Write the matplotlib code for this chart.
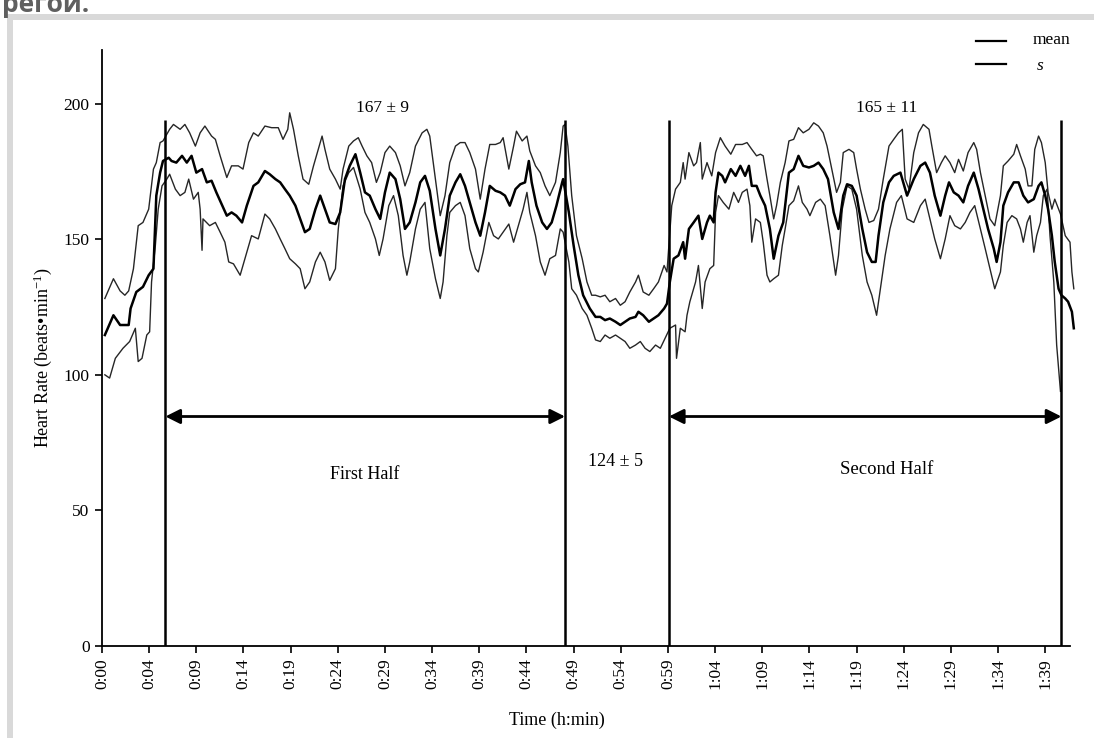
import numpy as np
import matplotlib
matplotlib.use("Agg")
import matplotlib.pyplot as plt
from matplotlib.lines import Line2D
from matplotlib.patches import Rectangle

plt.rcParams['font.family'] = ['Liberation Serif', 'DejaVu Serif']
plt.rcParams['mathtext.fontset'] = 'custom'
plt.rcParams['mathtext.rm'] = 'Liberation Serif'
plt.rcParams['mathtext.it'] = 'Liberation Serif:italic'

# ---------------- data (time in minutes, heart rate in beats/min) ----------------
t_upper = [0.3, 1.2, 1.9, 2.4, 2.8, 3.3, 3.8, 4.3, 4.9, 5.4, 5.7, 6.1, 6.4, 7.1, 7.5, 8.2, 8.7, 9.2, 9.8, 10.3,
           10.8, 11.5, 11.9, 12.4, 13.1, 13.6, 14.3, 14.8, 15.4, 15.9, 16.4,
           17.1, 17.8, 18.5, 19.0, 19.5, 19.7, 20.1, 20.6, 21.1, 21.7, 22.2, 22.5, 23.1, 23.4, 23.9, 24.5, 25.0,
           25.3, 25.9, 26.4, 26.9, 27.3, 27.8, 28.3, 28.8, 29.2, 29.7, 30.2, 30.8, 31.3, 31.8, 32.3, 32.9, 33.6, 34.1,
           34.4, 35.0, 35.5, 36.0, 36.5, 37.1, 37.6, 38.1, 38.6, 39.2, 39.7, 40.2, 40.7, 41.3, 41.8, 42.1, 42.7,
           43.2, 43.5, 44.1, 44.6, 44.9, 45.5, 46.0, 46.5, 47.0, 47.6, 48.1, 48.4, 48.6, 48.9, 49.3, 49.8, 50.4,
           50.9, 51.4,
           51.8, 52.3, 52.8, 53.3, 53.9, 54.4, 54.9, 55.4, 56.0, 56.3, 56.8, 57.4, 57.9, 58.4, 59.0, 59.3, 59.8,
           60.2, 60.7, 61.0, 61.2, 61.6, 62.1, 62.4, 62.8, 63.0, 63.5, 64.0, 64.4, 64.9, 65.4, 66.0, 66.5, 67.2,
           67.7, 68.2, 68.7,
           69.1, 69.4, 69.8, 70.1, 70.5, 70.8, 71.2, 71.7, 72.1, 72.6, 73.1, 73.6, 74.2, 74.7, 75.2, 75.7, 76.1,
           76.6, 77.1, 77.5, 77.8, 78.4, 78.9, 79.2, 79.6, 80.1, 80.5, 81.0, 81.5, 82.0, 82.6, 83.1, 83.6, 84.0,
           84.3, 84.7, 85.2, 85.7,
           86.2, 86.8, 87.1, 87.6, 88.1, 88.5, 89.0, 89.5, 89.9, 90.4, 90.9, 91.5, 91.8, 92.2, 92.7, 93.2, 93.7,
           94.3, 94.6, 95.1, 95.7, 96.0, 96.4, 96.9, 97.2, 97.6, 97.9, 98.3, 98.6, 99.0, 99.3, 99.7, 100.0, 100.4,
           100.6, 101.1, 101.6, 101.8, 102.0]
hr_upper = [128.2, 135.5, 131.0, 129.4, 131.0, 139.2, 155.1, 156.3, 161.2, 176.0, 178.4, 185.8, 186.4, 190.7,
            192.5, 190.7, 192.5, 189.4, 184.5, 189.4, 191.9, 188.2, 187.0, 180.9, 172.9, 177.2, 177.2, 176.0,
            185.8, 189.4, 188.2,
            191.9, 191.3, 191.3, 187.0, 190.7, 196.8, 190.7, 180.9, 172.3, 170.4, 177.2, 180.9, 188.2, 183.3,
            176.0, 172.3, 168.6, 176.0, 184.5, 186.4, 187.6, 184.5, 180.9, 178.4, 171.1, 174.7, 182.1, 184.5,
            182.1, 177.2, 169.8, 174.7, 184.5, 189.4, 190.7,
            188.2, 172.3, 158.8, 166.2, 178.4, 184.5, 185.8, 185.8, 182.1, 176.0, 164.9, 176.0, 185.1, 185.1,
            185.8, 187.6, 176.0, 184.5, 190.0, 186.4, 188.2, 182.7, 177.2, 174.7, 169.8, 166.2, 171.1, 182.1,
            191.9, 192.5, 184.5, 166.2, 151.4, 142.9, 134.3, 129.4,
            129.4, 128.8, 129.4, 127.0, 128.2, 125.7, 127.0, 130.6, 134.3, 136.8, 130.6, 129.4, 131.8, 134.3,
            140.4, 138.0, 162.5, 168.6, 171.1, 178.4, 172.3, 182.1, 177.2, 178.4, 185.8, 172.3, 178.4, 173.5,
            182.1, 187.6, 184.5, 181.5, 185.1, 185.1, 185.8, 183.3, 180.9,
            181.5, 180.9, 172.3, 166.2, 157.6, 162.5, 171.1, 178.4, 186.4, 187.0, 191.3, 189.4, 190.7, 193.1,
            191.9, 189.4, 184.5, 176.0, 167.4, 171.1, 182.1, 183.3, 182.1, 176.0, 168.6, 161.2, 156.3, 157.0,
            161.2, 172.3, 184.5, 187.0, 189.4, 190.7, 172.3, 168.6, 182.1, 189.4,
            192.5, 190.7, 184.5, 174.7, 178.4, 180.9, 178.4, 174.7, 179.6, 175.3, 182.1, 185.8, 183.3, 174.7,
            166.2, 157.6, 155.1, 166.2, 177.2, 179.0, 181.5, 185.1, 180.9, 176.0, 169.8, 169.8, 183.3, 188.2,
            185.8, 178.4, 167.4, 161.2, 164.9, 161.2, 159.4, 151.4, 149.0, 138.0, 131.8]

t_mean = [0.3, 1.2, 1.9, 2.8, 3.0, 3.6, 4.3, 4.9, 5.4, 5.7, 6.1, 6.4, 7.0, 7.3, 7.8, 8.4, 8.9, 9.4, 9.9, 10.5,
          11.0, 11.5, 12.0, 13.1, 13.6, 14.1, 14.7, 15.2, 15.9, 16.4,
          17.1, 17.6, 18.2, 18.7, 19.2, 19.7, 20.3, 20.8, 21.3, 21.8, 22.4, 22.9, 23.4, 23.9, 24.5, 25.0, 25.5,
          26.0, 26.6, 27.1, 27.6, 28.1, 28.7, 29.2, 29.7, 30.2, 30.8, 31.3, 31.8, 32.3, 32.9, 33.4, 33.9,
          34.4, 35.0, 35.5, 36.0, 36.5, 37.1, 37.6, 38.1, 38.6, 39.2, 39.7, 40.2, 40.7, 41.3, 41.8, 42.3, 42.8,
          43.4, 43.9, 44.4, 44.8, 45.1, 45.6, 46.2, 46.7, 47.2, 47.7, 48.3, 48.4, 49.0, 49.5, 50.0, 50.5, 51.2,
          51.8, 52.3, 52.8, 53.3, 53.9, 54.4, 54.9, 55.4, 56.0, 56.3, 56.8, 57.4, 57.9, 58.4, 59.0, 59.3, 59.6,
          60.0, 60.5, 61.0, 61.2, 61.6, 62.1, 62.6, 63.0, 63.5, 63.8, 64.2, 64.4, 64.7, 65.1, 65.4, 66.0, 66.5,
          67.0, 67.5, 67.9, 68.2, 68.7,
          69.1, 69.6, 70.1, 70.5, 71.0, 71.5, 72.1, 72.6, 73.1, 73.6, 74.2, 74.7, 75.2, 75.7, 76.2, 76.8, 77.3,
          77.8, 78.2, 78.7, 79.2, 79.8, 80.3, 80.8, 81.2, 81.5, 82.0, 82.6, 83.1, 83.8, 84.5, 85.2, 85.9,
          86.4, 86.9, 87.4, 88.0, 88.5, 88.9, 89.4, 89.9, 90.4, 90.9, 91.5, 92.0, 92.5, 93.0, 93.6, 93.9, 94.3,
          94.6, 95.1, 95.7, 96.2, 96.7, 97.2, 97.8, 98.3, 98.6, 99.0, 99.3, 99.7, 100.0, 100.4, 100.7, 101.1,
          101.4, 101.8, 102.0]
hr_mean = [114.7, 122.0, 118.4, 118.4, 124.5, 130.6, 132.5, 136.8, 139.2, 166.2, 174.7, 179.0, 180.2, 179.0,
           178.4, 180.9, 178.4, 180.9, 174.7, 176.0, 171.1, 171.7, 167.4, 158.8, 160.0, 158.8, 156.3, 162.5,
           169.8, 171.1,
           175.3, 174.1, 172.3, 171.1, 168.6, 166.2, 162.5, 157.6, 152.7, 153.9, 161.2, 166.2, 161.2, 156.3,
           155.7, 160.0, 172.3, 177.2, 181.5, 174.7, 167.4, 166.2, 161.2, 157.6, 167.4, 174.7, 172.3, 164.9,
           153.9, 156.3, 163.7, 171.1, 173.5,
           168.0, 153.9, 144.1, 153.9, 166.2, 171.1, 174.1, 169.8, 163.7, 156.3, 151.4, 160.0, 169.8, 168.0,
           167.4, 166.2, 162.5, 168.6, 170.4, 171.1, 179.0, 171.1, 162.5, 156.3, 153.9, 156.3, 162.5, 171.1,
           172.3, 160.0, 147.8, 136.8, 129.4, 124.5,
           121.4, 121.4, 120.2, 120.8, 119.6, 118.4, 119.6, 120.8, 121.4, 123.3, 122.0, 119.6, 120.8, 122.0,
           124.5, 126.3, 134.3, 142.9, 144.1, 149.0, 142.9, 153.9, 156.3, 158.8, 150.2, 156.3, 158.8, 156.3,
           167.4, 174.7, 173.5, 171.1, 176.0, 173.5, 177.2, 173.5, 177.2, 169.8, 169.8,
           166.2, 162.5, 153.9, 142.9, 151.4, 156.3, 174.7, 176.0, 180.9, 177.2, 176.6, 177.2, 178.4, 176.0,
           172.3, 160.0, 153.9, 166.2, 170.4, 169.8, 166.2, 153.9, 145.3, 141.7, 141.7, 151.4, 163.7, 171.1,
           173.5, 174.7, 166.2, 172.3, 177.2,
           178.4, 174.7, 166.2, 158.8, 166.2, 171.1, 167.4, 166.2, 163.7, 169.8, 174.7, 168.6, 161.2, 153.9,
           146.6, 141.7, 149.0, 162.5, 167.4, 171.1, 171.1, 166.2, 163.7, 164.9, 169.8, 171.1, 166.2, 161.2,
           151.4, 141.7, 131.8, 129.4, 128.2, 127.0, 123.3, 117.2]

t_lower = [0.3, 0.8, 1.4, 2.2, 2.9, 3.5, 3.8, 4.2, 4.7, 5.0, 5.2, 5.6, 5.9, 6.3, 6.8, 7.1, 7.7, 8.2, 8.7, 9.1,
           9.6, 10.1, 10.3, 10.5, 10.6, 11.3, 11.9, 12.4, 12.9, 13.3, 13.8, 14.5, 15.0, 15.7, 16.4,
           17.1, 17.6, 18.2, 18.7, 19.2, 19.7, 20.3, 20.8, 21.3, 21.8, 22.4, 22.9, 23.4, 23.9, 24.5, 24.8, 25.3,
           25.9, 26.4, 27.1, 27.6, 28.1, 28.7, 29.1, 29.5, 30.1, 30.6, 31.1, 31.6, 32.0, 32.3, 32.9, 33.4, 33.9,
           34.4, 35.0, 35.5, 35.8, 36.2, 36.5, 37.1, 37.6, 38.1, 38.6, 39.2, 39.5, 40.0, 40.6, 41.1, 41.6, 42.1,
           42.7, 43.2, 43.7, 44.2, 44.6, 44.9, 45.5, 46.0, 46.5, 47.0, 47.6, 48.1, 48.4, 49.0, 49.3, 49.8, 50.4,
           50.9, 51.4,
           51.8, 52.3, 52.8, 53.3, 53.9, 54.4, 54.9, 55.4, 56.0, 56.5, 57.0, 57.5, 58.1, 58.6, 59.1, 59.6, 60.2,
           60.3, 60.7, 61.2, 61.4, 61.7, 62.3, 62.6, 63.0, 63.3, 63.8, 64.2, 64.4, 64.7, 65.2, 65.8, 66.3, 66.8,
           67.2, 67.7, 68.0, 68.2, 68.6,
           69.1, 69.4, 69.8, 70.1, 70.5, 71.0, 71.4, 71.7, 72.1, 72.6, 73.1, 73.5, 74.0, 74.3, 74.9, 75.4, 75.9,
           76.4, 77.0, 77.3, 77.7, 78.2, 78.7, 79.2, 79.8, 80.3, 80.8, 81.3, 81.7, 82.2, 82.7, 83.4, 83.9, 84.5,
           85.2, 85.9,
           86.4, 86.9, 87.4, 88.0, 88.5, 89.0, 89.5, 90.1, 90.6, 91.1, 91.6, 92.2, 92.7, 93.2, 93.7, 94.3, 94.6,
           95.0, 95.5, 96.0, 96.4, 96.7, 97.1, 97.4, 97.8, 98.1, 98.5, 98.8, 99.2, 99.5, 99.9, 100.2, 100.6]
hr_lower = [100.0, 98.8, 106.1, 109.8, 112.3, 117.2, 104.9, 106.1, 114.7, 115.9, 134.3, 147.8, 161.2, 169.8,
            172.3, 174.1, 168.6, 166.2, 167.4, 172.3, 164.9, 167.4, 161.2, 146.0, 157.6, 155.1, 156.3, 152.7,
            149.0, 141.7, 141.0, 136.8, 142.9, 151.4, 150.2,
            159.4, 157.6, 153.9, 150.2, 146.6, 142.9, 141.0, 139.2, 131.8, 134.3, 141.7, 145.3, 141.7, 134.9,
            139.2, 153.9, 169.8, 174.7, 176.6, 168.6, 160.0, 156.3, 150.2, 144.1, 150.2, 162.5, 166.2, 158.8,
            144.1, 136.8, 141.7, 153.9, 161.2, 163.7,
            146.6, 135.5, 128.2, 134.3, 151.4, 160.0, 162.5, 163.7, 158.8, 146.6, 139.2, 138.0, 145.3, 156.3,
            151.4, 150.2, 152.7, 155.7, 149.0, 155.1, 161.2, 167.4, 160.0, 151.4, 141.7, 136.8, 142.9, 144.1,
            153.9, 152.7, 141.7, 131.8, 129.4, 124.5, 122.0, 117.2,
            112.9, 112.3, 114.7, 113.5, 114.7, 113.5, 112.3, 109.8, 111.0, 112.3, 109.8, 108.6, 111.0, 109.8,
            113.5, 117.2, 118.4, 106.1, 117.2, 115.9, 122.0, 127.0, 134.3, 140.4, 124.5, 134.3, 139.2, 140.4,
            160.0, 166.2, 163.7, 161.2, 167.4, 163.7, 167.4, 168.6, 162.5, 149.0, 157.6,
            156.3, 149.0, 136.8, 134.3, 135.5, 136.8, 147.8, 153.9, 162.5, 164.3, 169.8, 163.7, 161.2, 158.8,
            163.7, 164.9, 162.5, 151.4, 136.8, 144.1, 161.2, 169.8, 168.6, 161.2, 144.1, 134.3, 129.4, 122.0,
            131.8, 144.1, 153.9, 163.7, 166.2, 157.6, 156.3, 162.5,
            164.9, 157.6, 150.2, 142.9, 150.2, 158.8, 155.1, 153.9, 156.3, 160.0, 162.5, 153.9, 146.6, 139.2,
            131.8, 138.0, 147.8, 156.3, 158.8, 157.6, 153.9, 149.0, 156.3, 158.8, 145.3, 151.4, 156.3, 166.2,
            168.6, 151.4, 134.3, 111.0, 93.9]

half_bounds = [6.65, 48.6, 59.5, 100.7]        # start/end of first and second half (min)
tick_minutes = [4.95 * k for k in range(21)]
tick_labels = ["0:00", "0:04", "0:09", "0:14", "0:19", "0:24", "0:29", "0:34", "0:39", "0:44", "0:49",
               "0:54", "0:59", "1:04", "1:09", "1:14", "1:19", "1:24", "1:29", "1:34", "1:39"]
yticks = [0, 50, 100, 150, 200]
first_half_label = "167 ± 9"
halftime_label = "124 ± 5"
second_half_label = "165 ± 11"

# ---------------- figure ----------------
W, H = 1094, 738
fig = plt.figure(figsize=(W / 100, H / 100), dpi=100)
fig.patch.set_facecolor("white")

# grey frame of the page
fig.add_artist(Rectangle((7 / W, 0), 6 / W, (H - 14) / H, transform=fig.transFigure,
                         facecolor="#d9d9d9", edgecolor="none"))
fig.add_artist(Rectangle((7 / W, (H - 20) / H), (W - 7) / W, 6 / H, transform=fig.transFigure,
                         facecolor="#d9d9d9", edgecolor="none"))
fig.text(2 / W, (H - 12) / H, "регой.", fontsize=19, fontweight="bold", color="#5f5f5f",
         family=["Open Sans", "DejaVu Sans"], va="baseline", ha="left")

ax = fig.add_axes([102 / W, 92.5 / H, 968 / W, 595.5 / H])
ax.set_xlim(0, 101.6)
ax.set_ylim(0, 220)
for s in ("top", "right"):
    ax.spines[s].set_visible(False)
ax.spines["left"].set_linewidth(1.3)
ax.spines["bottom"].set_linewidth(1.3)

ax.plot(t_upper, hr_upper, color="#262626", lw=1.0, clip_on=False)
ax.plot(t_lower, hr_lower, color="#262626", lw=1.0, clip_on=False)
ax.plot(t_mean, hr_mean, color="black", lw=1.8, clip_on=False)

ax.vlines(half_bounds, 0, 194, color="black", lw=1.8)

arrow_y = 84.6
for a, b in [(half_bounds[0], half_bounds[1]), (half_bounds[2], half_bounds[3])]:
    ax.annotate("", xy=(b, arrow_y), xytext=(a, arrow_y),
                arrowprops=dict(arrowstyle="<|-|>", color="black", lw=2.0,
                                mutation_scale=22, shrinkA=0, shrinkB=0))

ax.set_xticks(tick_minutes)
ax.set_xticklabels(tick_labels, rotation=90, fontsize=12.5)
ax.set_yticks(yticks)
ax.set_yticklabels([str(v) for v in yticks], fontsize=12.5)
ax.tick_params(axis="both", direction="out", length=5, width=1.2, pad=4)

xl = ax.set_xlabel("Time (h:min)", fontsize=13)
xl.set_verticalalignment("center")
ax.xaxis.set_label_coords(0.47, -0.126)
yl = ax.set_ylabel("Heart Rate (beats•min$^{\\mathregular{-1}}$)", fontsize=13)
yl.set_verticalalignment("center")
ax.yaxis.set_label_coords(-0.061, 0.484)

ax.text(29.4, 198.5, first_half_label, ha="center", va="center", fontsize=12.5)
ax.text(82.4, 198.5, second_half_label, ha="center", va="center", fontsize=12.5)
ax.text(27.6, 63.2, "First Half", ha="center", va="center", fontsize=13)
ax.text(53.9, 68.0, halftime_label, ha="center", va="center", fontsize=13)
ax.text(82.4, 65.1, "Second Half", ha="center", va="center", fontsize=13.5)

# legend (drawn in figure coordinates)
fig.add_artist(Line2D([976 / W, 1006 / W], [(H - 40.5) / H] * 2, color="black", lw=1.6,
                      transform=fig.transFigure))
fig.add_artist(Line2D([976 / W, 1006 / W], [(H - 64) / H] * 2, color="black", lw=1.6,
                      transform=fig.transFigure))
fig.text(1033 / W, (H - 40.5) / H, "mean", fontsize=12.5, va="center", ha="left")
fig.text(1037 / W, (H - 66) / H, "s", fontsize=12.5, style="italic", va="center", ha="left")

fig.savefig("out.png", dpi=100)
